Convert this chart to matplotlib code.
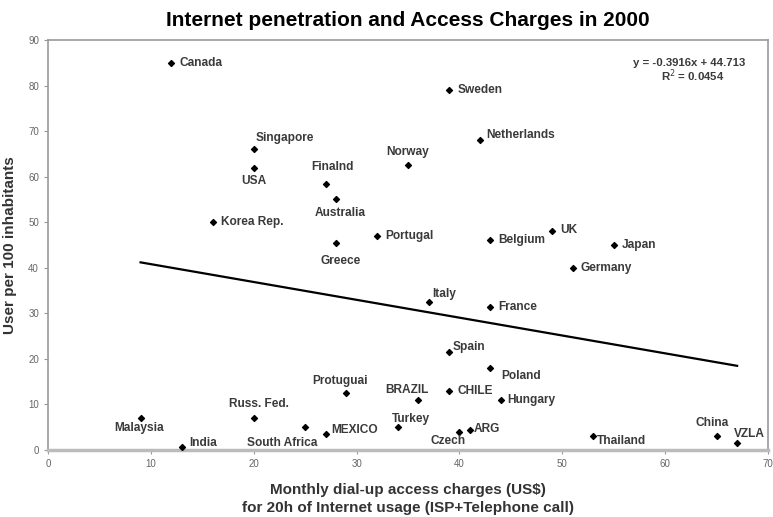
import matplotlib.pyplot as plt
import numpy as np

countries = ["Canada", "Sweden", "Netherlands", "Singapore", "USA", "Norway", "Finalnd",
             "Australia", "Korea Rep.", "Portugal", "Greece", "Belgium", "UK", "Japan",
             "Germany", "Italy", "France", "Spain", "Poland", "CHILE", "Hungary", "BRAZIL",
             "Protuguai", "Russ. Fed.", "Malaysia", "India", "South Africa", "MEXICO",
             "Turkey", "Czech", "ARG", "Thailand", "China", "VZLA"]
charges = [12, 39, 42, 20, 20, 35, 27, 28, 16, 32, 28, 43, 49, 55, 51, 37, 43, 39, 43, 39,
           44, 36, 29, 20, 9, 13, 25, 27, 34, 40, 41, 53, 65, 67]
users = [85, 79, 68, 66, 62, 62.5, 58.5, 55, 50, 47, 45.5, 46, 48, 45, 40, 32.5, 31.5,
         21.5, 18, 13, 11, 11, 12.5, 7, 7, 0.7, 5, 3.5, 5, 4, 4.5, 3, 3, 1.5]

slope = -0.3916
intercept = 44.713
r_squared = 0.0454

# label offsets in pixels (dx, dy) and alignment
label_pos = {
    "Canada": (8, 0, "left"), "Sweden": (8, 0, "left"), "Netherlands": (6, 5, "left"),
    "Singapore": (2, 11, "left"), "USA": (0, -13, "center"), "Norway": (0, 13, "center"),
    "Finalnd": (7, 16, "center"), "Australia": (4, -14, "center"),
    "Korea Rep.": (8, 0, "left"), "Portugal": (8, 0, "left"), "Greece": (5, -18, "center"),
    "Belgium": (8, 0, "left"), "UK": (8, 1, "left"), "Japan": (8, 0, "left"),
    "Germany": (8, 0, "left"), "Italy": (4, 8, "left"), "France": (8, 0, "left"),
    "Spain": (3, 5, "left"), "Poland": (11, -8, "left"), "CHILE": (8, 0, "left"),
    "Hungary": (7, 0, "left"), "BRAZIL": (-11, 10, "center"), "Protuguai": (-6, 12, "center"),
    "Russ. Fed.": (5, 14, "center"), "Malaysia": (-2, -10, "center"), "India": (8, 4, "left"),
    "South Africa": (-23, -16, "center"), "MEXICO": (6, 4, "left"), "Turkey": (13, 8, "center"),
    "Czech": (-11, -9, "center"), "ARG": (4, 0, "left"), "Thailand": (4, -5, "left"),
    "China": (-4, 13, "center"), "VZLA": (12, 9, "center"),
}

plt.rcParams['font.family'] = ['Liberation Sans', 'DejaVu Sans']

fig = plt.figure(figsize=(7.73, 5.17), dpi=100)
ax = fig.add_axes([48 / 773, 67 / 517, 720 / 773, 410 / 517])

ax.scatter(charges, users, marker="D", s=9, color="black", zorder=3)

xs = np.array([min(charges), max(charges)])
ax.plot(xs, slope * xs + intercept, color="black", lw=1.6)

for name, x, y in zip(countries, charges, users):
    dx, dy, ha = label_pos[name]
    ax.annotate(name, (x, y), xytext=(dx, dy), textcoords="offset pixels",
                ha=ha, va="center", fontsize=8.6, fontweight="bold", color="#3a3a3a")

ax.text(0.89, 0.944, f"y = {slope}x + {intercept}", transform=ax.transAxes,
        ha="center", va="center", fontsize=8.2, fontweight="bold", color="#3a3a3a")
ax.text(0.895, 0.912, f"R$^2$ = {r_squared}", transform=ax.transAxes,
        ha="center", va="center", fontsize=8.2, fontweight="bold", color="#3a3a3a")

ax.set_xlim(0, 70)
ax.set_ylim(0, 90)
ax.set_xticks(range(0, 71, 10))
ax.set_yticks(range(0, 91, 10))
ax.tick_params(labelsize=7, labelcolor="#666666", color="#999999", length=3)

for side in ["top", "right", "left"]:
    ax.spines[side].set_color("#999999")
    ax.spines[side].set_linewidth(1.2)
ax.spines["bottom"].set_color("#bbbbbb")
ax.spines["bottom"].set_linewidth(2.5)

ax.set_title("Internet penetration and Access Charges in 2000", fontsize=15,
             fontweight="bold", pad=10)
ax.set_xlabel("Monthly dial-up access charges (US$)\nfor 20h of Internet usage (ISP+Telephone call)",
              fontsize=11, fontweight="bold", color="#333333", labelpad=10, linespacing=1.4)
ax.set_ylabel("User per 100 inhabitants", fontsize=11, fontweight="bold", color="#333333",
              labelpad=8)

fig.savefig("out.png", dpi=100)
